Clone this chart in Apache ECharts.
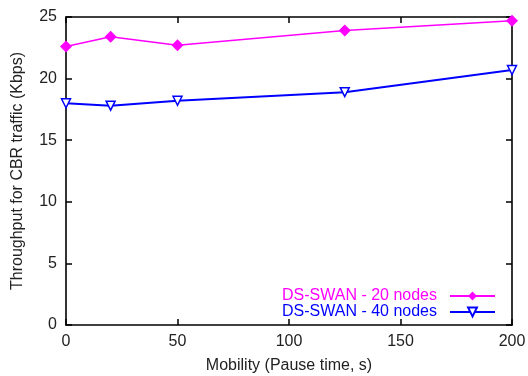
<!DOCTYPE html>
<html>
<head>
<meta charset="utf-8">
<script src="https://cdn.jsdelivr.net/npm/echarts@6/dist/echarts.min.js"></script>
<style>
  html, body { margin: 0; padding: 0; background: #fff; }
  #chart { width: 528px; height: 376px; }
</style>
</head>
<body>
<div id="chart"></div>
<script>
// pause times (s)
const pauseTimes = [0, 20, 50, 125, 200]
const nodes20 = [22.6, 23.4, 22.7, 23.9, 24.7]
const nodes40 = [18.0, 17.8, 18.2, 18.9, 20.7]
const seriesNames = ['DS-SWAN - 20 nodes', 'DS-SWAN - 40 nodes']

const font = 'Liberation Sans, Arial, sans-serif'
const chart = echarts.init(document.getElementById('chart'))

const axisLine = { show: true, onZero: false, lineStyle: { color: '#000', width: 1.6 } }
const tick = { show: true, inside: true, length: 6, lineStyle: { color: '#000', width: 1.5 } }

const option = {
  animation: false,
  grid: { left: 66, right: 16, top: 17, bottom: 51, outerBoundsMode: 'none', containLabel: false },
  legend: {
    right: 32,
    bottom: 56,
    padding: 0,
    orient: 'vertical',
    align: 'right',
    itemGap: 0,
    itemWidth: 45,
    itemHeight: 11,
    textStyle: { fontFamily: font, fontSize: 16, lineHeight: 16, padding: [0, 8, 0, 0] },
    data: [
      { name: seriesNames[0], textStyle: { color: '#ff00ff' } },
      { name: seriesNames[1], textStyle: { color: '#0000ff' } }
    ]
  },
  xAxis: [
    {
      type: 'value', min: 0, max: 200, interval: 50,
      name: 'Mobility (Pause time, s)', nameLocation: 'middle', nameGap: 33,
      nameTextStyle: { fontFamily: font, fontSize: 16, color: '#222' },
      axisLine: axisLine, axisTick: tick, splitLine: { show: false },
      axisLabel: { fontFamily: font, fontSize: 16, color: '#222', margin: 9 }
    },
    {
      type: 'value', min: 0, max: 200, interval: 50, position: 'top',
      axisLine: axisLine, axisTick: tick, splitLine: { show: false },
      axisLabel: { show: false }
    }
  ],
  yAxis: [
    {
      type: 'value', min: 0, max: 25, interval: 5,
      name: 'Throughput for CBR traffic (Kbps)', nameLocation: 'middle', nameGap: 40,
      nameTextStyle: { fontFamily: font, fontSize: 16, color: '#222' },
      axisLine: axisLine, axisTick: tick, splitLine: { show: false },
      axisLabel: { fontFamily: font, fontSize: 16, color: '#222', margin: 9 }
    },
    {
      type: 'value', min: 0, max: 25, interval: 5, position: 'right',
      axisLine: axisLine, axisTick: tick, splitLine: { show: false },
      axisLabel: { show: false }
    }
  ],
  series: [
    {
      name: seriesNames[0],
      type: 'line',
      data: pauseTimes.map((x, i) => [x, nodes20[i]]),
      symbol: 'diamond',
      symbolSize: 12,
      itemStyle: { color: '#ff00ff' },
      lineStyle: { color: '#ff00ff', width: 1.5 }
    },
    {
      name: seriesNames[1],
      type: 'line',
      data: pauseTimes.map((x, i) => [x, nodes40[i]]),
      symbol: 'triangle',
      symbolRotate: 180,
      symbolSize: 9,
      itemStyle: { color: '#fff', borderColor: '#0000ff', borderWidth: 1.5 },
      lineStyle: { color: '#0000ff', width: 2 }
    }
  ]
}
chart.setOption(option)
</script>
</body>
</html>
